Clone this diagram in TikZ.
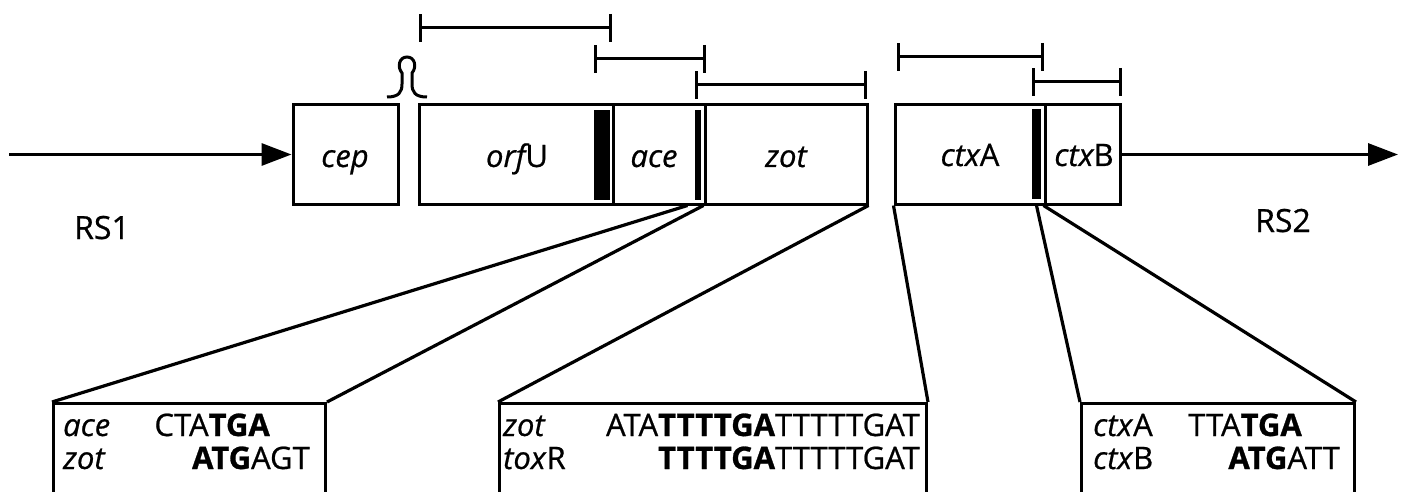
\documentclass[tikz,border=0pt]{standalone}
\usepackage{fontspec}
\setmainfont{Open Sans}[
  UprightFeatures={FakeBold=0.7},
  ItalicFeatures={FakeBold=0.7},
  BoldFeatures={FakeBold=0.9}]
\usetikzlibrary{arrows.meta}
\begin{document}
\begin{tikzpicture}[x=1pt, y=-1pt,
  gene/.style={draw, line width=3pt, inner sep=0pt, minimum height=99pt},
  blackbar/.style={fill=black, draw=none, inner sep=0pt, minimum height=90pt},
  seqbox/.style={draw, line width=3pt, inner sep=0pt, anchor=north west, minimum height=140pt},
  span/.style={line width=3pt, {Bar[width=28pt]}-{Bar[width=28pt]}},
  link/.style={line width=3.2pt},
  lab/.style={anchor=base, inner sep=0pt, font=\fontsize{31}{36}\selectfont\itshape},
  seql/.style={anchor=base west, inner sep=0pt, font=\fontsize{31}{36}\selectfont},
  seqr/.style={anchor=base east, inner sep=0pt, font=\fontsize{31}{36}\selectfont},
  rs/.style={anchor=base, inner sep=0pt, font=\fontsize{32}{36}\selectfont},
  head/.style={-{Triangle[length=30pt,width=22pt]}}]
\useasboundingbox (0,0) rectangle (1401,492);
\clip (0,0) rectangle (1401,492);

% gene boxes
\node[gene, minimum width=105pt] (cep)  at (345.5,154.5) {};
\node[gene, minimum width=194pt] (orfU) at (516,154.5) {};
\node[gene, minimum width=92pt]  (ace)  at (659,154.5) {};
\node[gene, minimum width=162pt] (zot)  at (786,154.5) {};
\node[gene, minimum width=150pt] (ctxA) at (970,154.5) {};
\node[gene, minimum width=75pt]  (ctxB) at (1082.5,154.5) {};

% junction bars
\node[blackbar, minimum width=16pt] (orfUbar) at (602,155) {};
\node[blackbar, minimum width=6pt]  (acebar)  at (698,155) {};
\node[blackbar, minimum width=9pt]  (ctxbar)  at (1036.5,154) {};

% gene names
\node[lab] (tcep)  at (345,167) {cep};
\node[lab] (torfU) at (517,167) {orf\upshape U};
\node[lab] (tace)  at (654,167) {ace};
\node[lab] (tzot)  at (786,167) {zot};
\node[lab] (tctxA) at (970,166) {ctx\upshape A};
\node[lab] (tctxB) at (1084,166) {ctx\upshape B};

% repeat sequences
\node[rs] (rs1) at (102,239) {RS1};
\node[rs] (rs2) at (1283,232) {RS2};
\coordinate (rs1start) at (9,154.5);
\coordinate (rs2end) at (1398,154.5);
\draw[link, head] (rs1start) -- (cep.west);
\draw[link, head] (ctxB.east) -- (rs2end);

% terminator stem-loop
\draw[line width=3pt]
  (387,97) .. controls (399,97) and (402,92) .. (402,84) -- (402,73)
  .. controls (397,67) and (399,57) .. (407,57)
  .. controls (415,57) and (417,67) .. (412,73) -- (412,84)
  .. controls (412,92) and (415,97) .. (427,97);

% spans above the genes
\draw[span] (419,28) -- (612,28);
\draw[span] (594,59) -- (706,59);
\draw[span] (695,85) -- (867,85);
\draw[span] (897,57) -- (1044,57);
\draw[span] (1032,82) -- (1122,82);

% sequence boxes
\node[seqbox, minimum width=272pt] (seqA) at (52,402) {};
\node[seqbox, minimum width=427pt] (seqB) at (498,402) {};
\node[seqbox, minimum width=273pt] (seqC) at (1080,402) {};

\node[seql] (sA1) at (63,436) {\textit{ace}};
\node[seqr] (qA1) at (270,436) {CTA\textbf{TGA}};
\node[seql] (sA2) at (63,469) {\textit{zot}};
\node[seqr] (qA2) at (310,469) {\textbf{ATG}AGT};

\node[seql] (sB1) at (503,436) {\textit{zot}};
\node[seqr] (qB1) at (920,436) {ATA\textbf{TTTTGA}TTTTTGAT};
\node[seql] (sB2) at (503,469) {\textit{tox}R};
\node[seqr] (qB2) at (920,469) {\textbf{TTTTGA}TTTTTGAT};

\node[seql] (sC1) at (1093,436) {\textit{ctx}A};
\node[seqr] (qC1) at (1302,436) {TTA\textbf{TGA}};
\node[seql] (sC2) at (1093,469) {\textit{ctx}B};
\node[seqr] (qC2) at (1340,469) {\textbf{ATG}ATT};

% junction close-ups
\draw[link] ([xshift=-19pt]ace.south east) -- (seqA.north west);
\draw[link] ([xshift=-3pt]ace.south east) -- (seqA.north east);
\draw[link] (zot.south east) -- (seqB.north west);
\draw[link] (ctxA.south west) -- (seqB.north east);
\draw[link] (ctxbar.south |- ctxA.south) -- (seqC.north west);
\draw[link] (ctxB.south west) -- (seqC.north east);
\end{tikzpicture}
\end{document}
